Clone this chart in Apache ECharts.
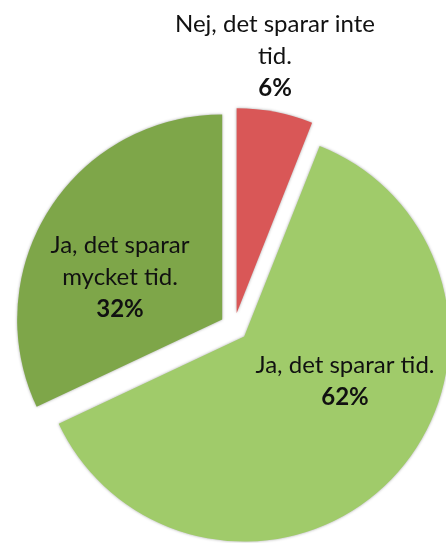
<!DOCTYPE html>
<html>
<head>
<meta charset="utf-8">
<script src="https://cdn.jsdelivr.net/npm/echarts@6/dist/echarts.min.js"></script>
<style>
  html, body { margin: 0; padding: 0; background: #fff; }
  #chart { width: 446px; height: 543px; }
</style>
</head>
<body>
<div id="chart"></div>
<script>
// answers, clockwise from 12 o'clock
const names = ["Nej, det sparar inte\ntid.", "Ja, det sparar tid.", "Ja, det sparar\nmycket tid."];
const values = [6, 62, 32];
const colors = ["#d95757", "#a0cb6a", "#7ea649"];

// where each label block sits (centre of text)
const labelSpots = [[275, 56], [345, 381], [120, 277]];

const chart = echarts.init(document.getElementById("chart"));

const labelText = (name, value) => {
  const lines = name.split("\n").map((s) => "{n|" + s + "}");
  return lines.join("\n") + "\n{p|" + value + "%}";
};

const labelRich = {
  n: { fontFamily: "Lato", fontSize: 24, lineHeight: 32, fill: "#111", color: "#111" },
  p: { fontFamily: "Lato", fontSize: 24, fontWeight: "bold", lineHeight: 32, fill: "#111", color: "#111" },
};

chart.setOption({
  animation: false,
  graphic: names.map((nm, i) => ({
    type: "text",
    z: 100,
    x: labelSpots[i][0],
    y: labelSpots[i][1],
    style: {
      text: labelText(nm, values[i]),
      align: "center",
      verticalAlign: "middle",
      rich: labelRich,
    },
  })),
  series: [
    {
      type: "pie",
      center: [234, 327],
      radius: [0, 205],
      startAngle: 90,
      clockwise: true,
      selectedMode: "multiple",
      selectedOffset: 14,
      emphasis: { disabled: true },
      itemStyle: {
        shadowBlur: 3,
        shadowColor: "rgba(0,0,0,0.35)",
      },
      label: { show: false },
      labelLine: { show: false },
      select: { itemStyle: { borderWidth: 0 } },
      data: values.map((v, i) => ({
        name: names[i],
        value: v,
        selected: true,
        itemStyle: { color: colors[i] },
      })),
    },
  ],
});
</script>
</body>
</html>
